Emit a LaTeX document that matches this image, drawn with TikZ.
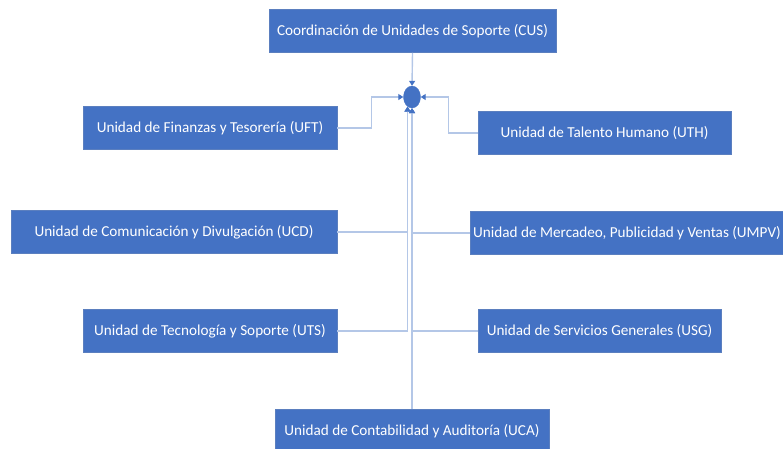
\documentclass[tikz,border=0pt]{standalone}
\usepackage{fontspec}
\setmainfont{Carlito}
\usepackage{tikz}
\usetikzlibrary{arrows.meta}
\usetikzlibrary{shapes.geometric}
\definecolor{unitblue}{HTML}{4472C4}
\definecolor{unitedge}{HTML}{5B7FBF}
\definecolor{linkblue}{HTML}{B4C7E7}
\tikzset{
    unit/.style={rectangle, fill=unitblue, draw=unitedge, line width=0.8pt,
    	minimum height=43pt, inner sep=0pt, text=white,
    	font=\fontsize{15.2}{17}\selectfont}
}
\tikzset{
    link/.style={draw=linkblue, line width=1.4pt,
    	-{Triangle[length=5pt,width=6pt,color=unitblue]}}
}
\tikzset{
	hubdot/.style={ellipse, fill=unitblue, draw=unitblue, minimum width=17pt,
		minimum height=22pt, inner sep=0pt}
}

\begin{document}
\begin{tikzpicture}[x=1pt,y=-1pt]
	\useasboundingbox (0,0) rectangle (783,448);
	\node (cus) [unit, minimum width=287pt] at (412.5,31) {Coordinación de Unidades de Soporte (CUS)};
	\node (hub) [hubdot] at (412,97) {};
	\node (uft) [unit, minimum width=254pt] at (210,128) {Unidad de Finanzas y Tesorería (UFT)};
	\node (uth) [unit, minimum width=253pt] at (604.5,133) {Unidad de Talento Humano (UTH)};
	\node (ucd) [unit, minimum width=326pt] at (174,232) {Unidad de Comunicación y Divulgación (UCD)};
	\node (umpv) [unit, minimum width=314pt] at (627,233) {Unidad de Mercadeo, Publicidad y Ventas (UMPV)};
	\node (uts) [unit, minimum width=254pt] at (210,331) {Unidad de Tecnología y Soporte (UTS)};
	\node (usg) [unit, minimum width=243pt] at (599.5,331) {Unidad de Servicios Generales (USG)};
	\node (uca) [unit, minimum width=274pt] at (412,431) {Unidad de Contabilidad y Auditoría (UCA)};
	
	\draw[link] (cus.south) -- (hub.north);
	\draw[link] (uft.east) -- ++(34,0) |- (hub.west);
	\draw[link] (uth.west) -- ++(-29,0) |- (hub.east);
	\draw[link] (ucd.east) -| (hub.-115); \draw[link] (uts.east) -| (hub.-115);
	\draw[link] (umpv.west) -| (hub.south); \draw[link] (usg.west) -| (hub.south);
	\draw[link] (uca.north) -- (hub.south);
\end{tikzpicture}
\end{document}
